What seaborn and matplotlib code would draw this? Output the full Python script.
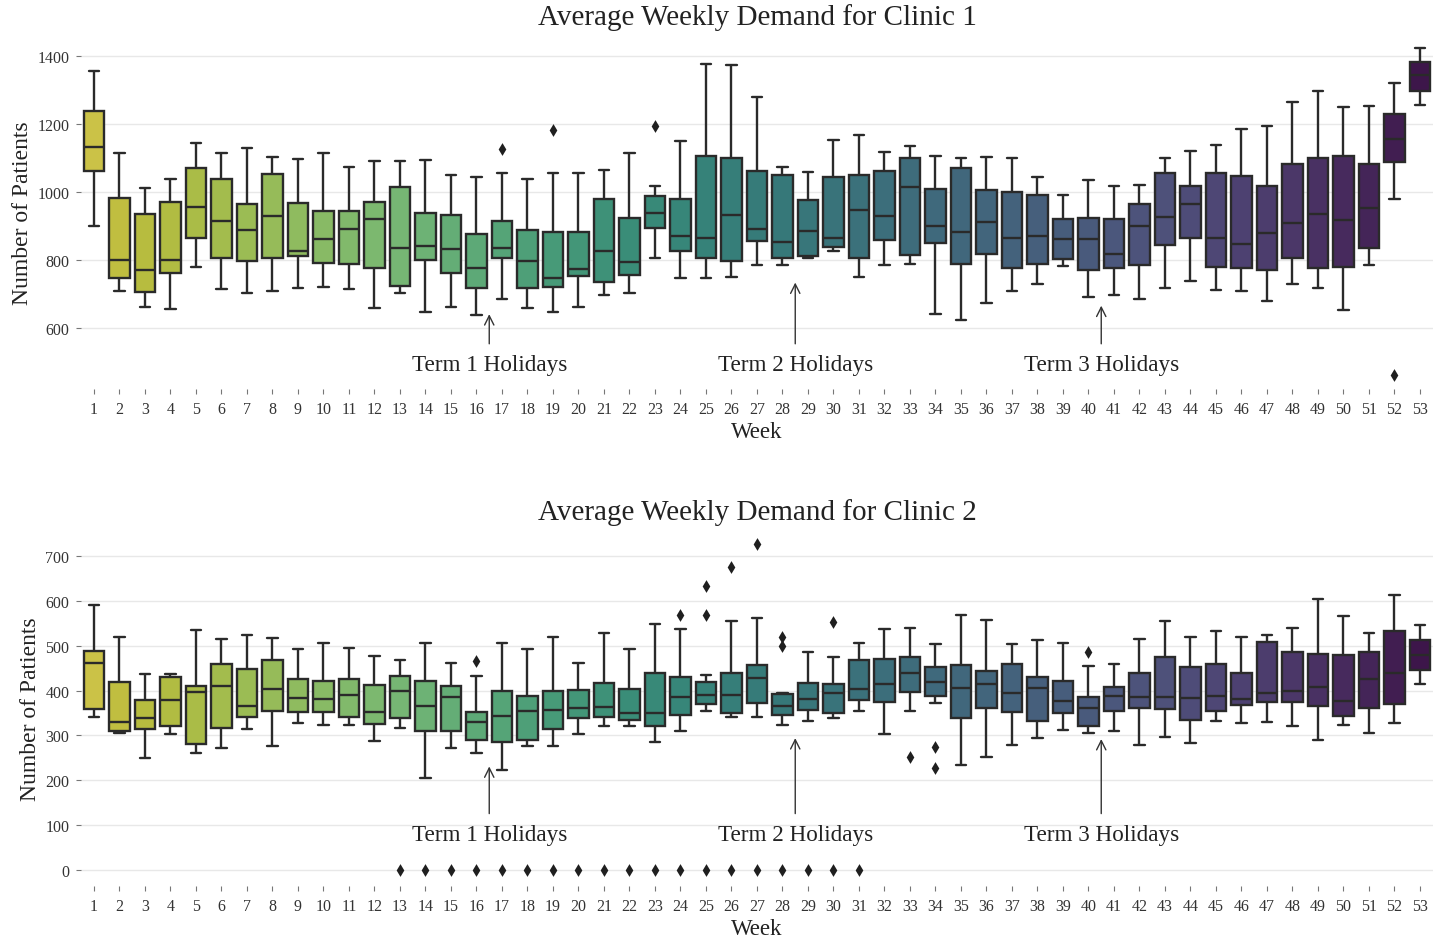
import numpy as np
import pandas as pd
import matplotlib
matplotlib.use("Agg")
import matplotlib.pyplot as plt
import seaborn as sns

weeks = list(range(1, 54))

# Clinic 1 box statistics per week (lower whisker, Q1, median, Q3, upper whisker)
c1_low = [902, 711, 664, 656, 782, 717, 703, 711, 720, 723, 717, 661, 703, 647, 664, 639, 687, 661, 647, 664,
          698, 703, 808, 747, 747, 750, 786, 786, 808, 828, 750, 786, 789, 643, 625, 676, 711, 731, 785, 694,
          697, 687, 718, 740, 714, 709, 682, 731, 718, 654, 788, 982, 1257]
c1_q1 = [1064, 748, 706, 762, 865, 806, 799, 806, 814, 793, 789, 778, 725, 802, 762, 719, 808, 719, 723, 753,
         738, 758, 896, 827, 808, 799, 857, 808, 813, 840, 808, 861, 817, 850, 789, 818, 779, 790, 803, 771,
         779, 787, 845, 865, 782, 779, 771, 806, 777, 782, 837, 1090, 1299]
c1_med = [1135, 800, 772, 800, 958, 917, 889, 930, 828, 862, 892, 921, 837, 843, 834, 779, 838, 799, 747, 775,
          827, 795, 941, 871, 865, 934, 893, 854, 887, 865, 948, 932, 1016, 902, 883, 914, 866, 871, 863, 863,
          819, 900, 927, 966, 867, 848, 880, 911, 938, 918, 954, 1156, 1345]
c1_q3 = [1240, 983, 937, 973, 1072, 1039, 965, 1055, 969, 944, 944, 972, 1017, 940, 934, 878, 917, 889, 885, 883,
         981, 925, 991, 981, 1106, 1100, 1063, 1052, 977, 1044, 1052, 1063, 1100, 1011, 1073, 1008, 1000, 992, 922, 925,
         922, 965, 1056, 1018, 1056, 1049, 1018, 1084, 1100, 1108, 1084, 1230, 1384]
c1_high = [1358, 1115, 1012, 1039, 1146, 1115, 1130, 1103, 1099, 1115, 1076, 1091, 1091, 1095, 1051, 1044, 1056, 1039, 1056, 1056,
           1067, 1115, 1020, 1150, 1377, 1376, 1281, 1074, 1060, 1155, 1170, 1118, 1137, 1106, 1100, 1103, 1100, 1045, 993, 1036,
           1018, 1021, 1100, 1123, 1139, 1186, 1194, 1267, 1297, 1250, 1254, 1322, 1426]
c1_out_weeks = [17, 19, 23, 52]
c1_out_vals = [1128, 1185, 1196, 463]

# Clinic 2 box statistics per week
c2_low = [342, 306, 249, 303, 261, 272, 314, 277, 328, 323, 323, 288, 317, 205, 273, 261, 223, 276, 276, 303,
          321, 321, 286, 309, 354, 342, 342, 324, 333, 339, 354, 303, 354, 373, 234, 252, 279, 294, 312, 306,
          309, 279, 297, 283, 333, 327, 331, 321, 291, 324, 306, 327, 414]
c2_q1 = [359, 311, 314, 320, 281, 317, 342, 355, 353, 353, 340, 326, 338, 311, 311, 291, 285, 291, 314, 338,
         342, 335, 320, 346, 370, 351, 372, 346, 356, 351, 380, 375, 396, 387, 338, 362, 353, 332, 351, 322,
         354, 362, 358, 334, 354, 368, 374, 374, 365, 344, 361, 371, 446]
c2_med = [461, 331, 339, 380, 397, 411, 366, 403, 384, 381, 390, 352, 398, 366, 386, 331, 343, 354, 357, 361,
          364, 350, 351, 385, 389, 391, 427, 366, 381, 394, 403, 414, 440, 418, 406, 415, 394, 406, 376, 360,
          387, 385, 385, 383, 387, 382, 394, 398, 407, 377, 426, 438, 480]
c2_q3 = [488, 420, 380, 429, 411, 458, 449, 467, 426, 422, 425, 413, 432, 422, 411, 353, 398, 387, 398, 401,
         417, 404, 440, 429, 420, 438, 456, 393, 417, 414, 468, 470, 474, 453, 456, 443, 458, 429, 422, 386,
         408, 440, 474, 453, 458, 440, 509, 485, 482, 479, 485, 533, 512]
c2_high = [590, 518, 437, 437, 534, 515, 524, 516, 492, 506, 495, 477, 468, 506, 462, 432, 506, 492, 518, 462,
           527, 492, 548, 537, 435, 554, 561, 394, 485, 474, 506, 537, 539, 503, 569, 558, 503, 512, 506, 455,
           460, 515, 554, 518, 532, 518, 524, 539, 604, 565, 529, 613, 545]
c2_out_weeks = list(range(13, 32)) + [16, 24, 25, 25, 26, 27, 28, 28, 30, 33, 34, 34, 40]
c2_out_vals = [0] * 19 + [466, 568, 633, 568, 675, 726, 519, 498, 552, 251, 275, 227, 486]

titles = ["Average Weekly Demand for Clinic 1", "Average Weekly Demand for Clinic 2"]
annot_texts = ["Term 1 Holidays", "Term 2 Holidays", "Term 3 Holidays"]
annot_weeks = [16.5, 28.5, 40.5]


def long_frame(low, q1, med, q3, high):
    rows = []
    for w, a, b, c, d, e in zip(weeks, low, q1, med, q3, high):
        for v in (a, b, c, d, e):
            rows.append((w, v))
    return pd.DataFrame(rows, columns=["week", "patients"])


sns.set_style("white")
plt.rcParams["font.family"] = ["Liberation Serif", "DejaVu Serif"]
plt.rcParams["xtick.bottom"] = True
plt.rcParams["ytick.left"] = True

fig = plt.figure(figsize=(14.41, 9.45), dpi=100)
ax1 = fig.add_axes([0.05638, 0.58730, 0.93789, 0.37354])
ax2 = fig.add_axes([0.05638, 0.06138, 0.93789, 0.37566])

pal = sns.color_palette("viridis_r", len(weeks))

panels = [
    (ax1, long_frame(c1_low, c1_q1, c1_med, c1_q3, c1_high), c1_out_weeks, c1_out_vals,
     (422, 1460), [600, 800, 1000, 1200, 1400], [642, 735, 667], 494, titles[0]),
    (ax2, long_frame(c2_low, c2_q1, c2_med, c2_q3, c2_high), c2_out_weeks, c2_out_vals,
     (-35, 755), [0, 100, 200, 300, 400, 500, 600, 700], [231, 294, 292], 80, titles[1]),
]

for ax, df, ow, ov, ylim, yt, tips, ty, title in panels:
    sns.boxplot(data=df, x="week", y="patients", hue="week", order=weeks, hue_order=weeks,
                palette=pal, legend=False, whis=(0, 100), width=0.8, saturation=0.62,
                linecolor="#2a2a2a", linewidth=1.7, showfliers=False, ax=ax)
    odf = pd.DataFrame({"week": ow, "patients": ov})
    sns.stripplot(data=odf, x="week", y="patients", order=weeks, jitter=False,
                  marker="d", color="#1f1f1f", size=6.5, ax=ax)
    ax.set_xlim(-0.5, len(weeks) - 0.5)
    ax.set_ylim(*ylim)
    ax.set_yticks(yt)
    ax.yaxis.grid(True, color="#e8e8e8", linewidth=1.0)
    ax.set_axisbelow(True)
    for s in ax.spines.values():
        s.set_visible(False)
    ax.tick_params(axis="both", length=3.5, width=0.8, color="#777777", labelsize=11.5,
                   labelcolor="#333333", pad=5)
    ax.set_xlabel("Week", fontsize=16.5, labelpad=3, color="#222222")
    ax.set_ylabel("Number of Patients", fontsize=17, labelpad=3, color="#222222")
    ax.set_title(title, fontsize=21, pad=8.5, color="#222222")
    for txt, w, tip in zip(annot_texts, annot_weeks, tips):
        ax.annotate(txt, xy=(w - 1, tip), xytext=(w - 1, ty), ha="center", va="center",
                    fontsize=16.7, color="#222222",
                    arrowprops=dict(arrowstyle="->", color="#333333", lw=1.0, shrinkA=5, shrinkB=0))

fig.savefig("out.png", dpi=100)
